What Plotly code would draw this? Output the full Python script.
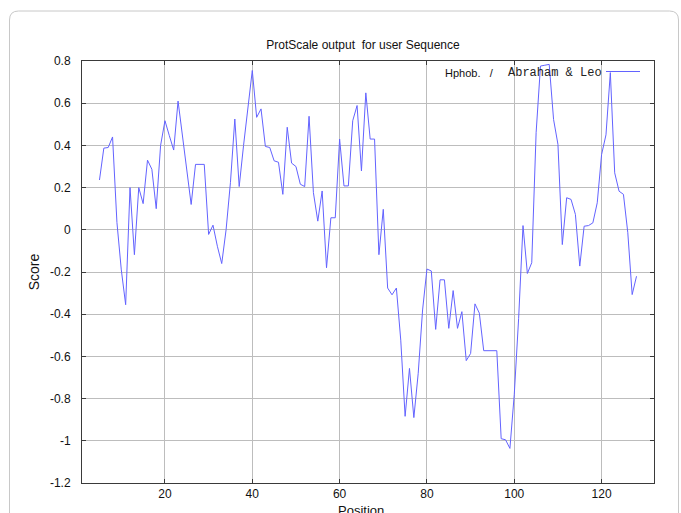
import plotly.graph_objects as go

# ---- data ----
positions = list(range(5, 129))
scores = [
    0.236, 0.387, 0.39, 0.44, 0.035, -0.19, -0.355, 0.20, -0.118, 0.20,
    0.124, 0.33, 0.287, 0.10, 0.40, 0.517, 0.446, 0.378, 0.61, 0.446,
    0.287, 0.12, 0.31, 0.31, 0.31, -0.022, 0.022, -0.078, -0.16, 0.0,
    0.225, 0.525, 0.205, 0.40, 0.59, 0.755, 0.533, 0.573, 0.395, 0.39,
    0.327, 0.32, 0.168, 0.486, 0.316, 0.30, 0.216, 0.205, 0.538, 0.176,
    0.041, 0.184, -0.18, 0.057, 0.057, 0.43, 0.208, 0.208, 0.517, 0.589,
    0.279, 0.649, 0.43, 0.43, -0.118, 0.097, -0.276, -0.308, -0.276, -0.523,
    -0.884, -0.657, -0.89, -0.68, -0.38, -0.186, -0.195, -0.472, -0.237, -0.237,
    -0.467, -0.288, -0.467, -0.388, -0.62, -0.586, -0.351, -0.395, -0.573, -0.573,
    -0.573, -0.573, -0.99, -0.995, -1.036, -0.78, -0.42, 0.02, -0.207, -0.156,
    0.46, 0.776, 0.78, 0.784, 0.523, 0.405, -0.07, 0.152, 0.144, 0.073,
    -0.172, 0.017, 0.02, 0.033, 0.128, 0.357, 0.45, 0.745, 0.27, 0.183,
    0.168, -0.014, -0.307, -0.22,
]
x_tickvals = [20, 40, 60, 80, 100, 120]
y_tickvals = [0.8, 0.6, 0.4, 0.2, 0, -0.2, -0.4, -0.6, -0.8, -1, -1.2]
y_ticktext = ["0.8", "0.6", "0.4", "0.2", "0", "-0.2", "-0.4", "-0.6", "-0.8", "-1", "-1.2"]

W, H = 681, 513
ML, MR, MT, MB = 82, 27, 61, 30
PW, PH = W - ML - MR, H - MT - MB

def px_to_paper_x(px):
    return (px - ML) / PW

def px_to_paper_y(py):
    return (H - MB - py) / PH

LINE_COLOR = "#6363ff"
AXIS_COLOR = "#3a3a3a"
GRID_COLOR = "#bdbdbd"

fig = go.Figure()
fig.add_trace(go.Scatter(
    x=positions, y=scores, mode="lines",
    line=dict(color=LINE_COLOR, width=1),
    showlegend=False, hoverinfo="x+y",
))

# outer rounded card border
cl, cr, ct, cb, rad = 9.5, 678.5, 11, 530, 9
x0, x1 = px_to_paper_x(cl), px_to_paper_x(cr)
y0, y1 = px_to_paper_y(cb), px_to_paper_y(ct)
rx, ry = rad / PW, rad / PH
card_path = (
    f"M {x0} {y0} L {x0} {y1 - ry} Q {x0} {y1} {x0 + rx} {y1} "
    f"L {x1 - rx} {y1} Q {x1} {y1} {x1} {y1 - ry} L {x1} {y0}"
)

shapes = [
    dict(type="path", path=card_path, xref="paper", yref="paper",
         line=dict(color="#c8c8c8", width=1), layer="below"),
    # legend sample line
    dict(type="line", xref="paper", yref="paper",
         x0=px_to_paper_x(606), x1=px_to_paper_x(640),
         y0=px_to_paper_y(71.5), y1=px_to_paper_y(71.5),
         line=dict(color=LINE_COLOR, width=1)),
]

annotations = [
    dict(text="Hphob.&nbsp;&nbsp;&nbsp;/", xref="paper", yref="paper",
         x=px_to_paper_x(443), y=px_to_paper_y(72.5), xanchor="left", yanchor="middle",
         showarrow=False, font=dict(family="Liberation Sans, Arial, sans-serif", size=11, color="#111")),
    dict(text="Abraham &amp; Leo", xref="paper", yref="paper",
         x=px_to_paper_x(506), y=px_to_paper_y(72.5), xanchor="left", yanchor="middle",
         showarrow=False, font=dict(family="Liberation Mono, DejaVu Sans Mono, monospace", size=12, color="#222")),
    # x-axis title, partly cut by the bottom edge as in the reference
    dict(text="Position", xref="paper", yref="paper",
         x=px_to_paper_x(361), y=px_to_paper_y(510), xanchor="center", yanchor="middle",
         showarrow=False, font=dict(family="Liberation Sans, Arial, sans-serif", size=13, color="#111")),
]

fig.update_layout(
    width=W, height=H,
    margin=dict(l=ML, r=MR, t=MT, b=MB, pad=0),
    paper_bgcolor="white", plot_bgcolor="white",
    font=dict(family="Liberation Sans, Arial, sans-serif", size=12, color="#111"),
    title=dict(text="ProtScale output&nbsp;&nbsp;for user Sequence",
               x=363 / W, xref="container", xanchor="center",
               y=1 - 45 / H, yref="container", yanchor="middle",
               font=dict(size=12, color="#111")),
    xaxis=dict(
        range=[1, 132], tickvals=x_tickvals, ticks="inside", ticklen=4,
        tickcolor=AXIS_COLOR, showline=True, linecolor=AXIS_COLOR, linewidth=1,
        mirror="ticks", showgrid=True, gridcolor=GRID_COLOR, gridwidth=1,
        zeroline=False, tickfont=dict(size=12),
        automargin=False,
    ),
    yaxis=dict(
        range=[-1.2, 0.8], tickvals=y_tickvals, ticktext=y_ticktext,
        ticks="inside", ticklen=4, tickcolor=AXIS_COLOR, showline=True,
        linecolor=AXIS_COLOR, linewidth=1, mirror="ticks", showgrid=True,
        gridcolor=GRID_COLOR, gridwidth=1, zeroline=False,
        tickfont=dict(size=12), ticklabelstandoff=8,
        title=dict(text="Score", font=dict(size=14), standoff=7),
        automargin=False,
    ),
    shapes=shapes, annotations=annotations,
)

fig.write_html("out.html")
